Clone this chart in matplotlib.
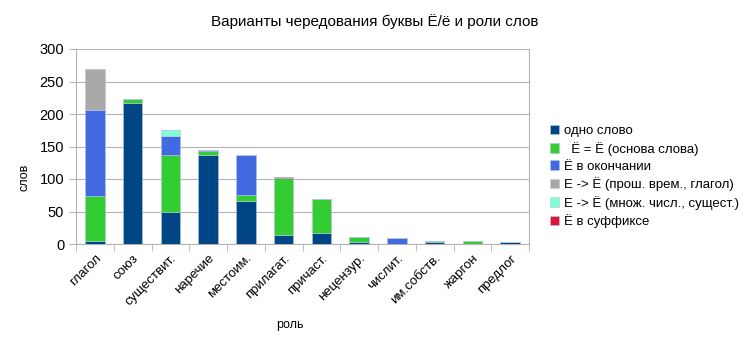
import matplotlib
matplotlib.use("Agg")
import matplotlib.pyplot as plt
import numpy as np

plt.rcParams['font.family'] = ['Liberation Sans', 'DejaVu Sans']

categories = ["глагол", "союз", "существит.", "наречие", "местоим.", "прилагат.",
              "причаст.", "нецензур.", "числит.", "им.собств.", "жаргон", "предлог"]
series_names = ["одно слово", "  Ё = Ё (основа слова)", "Ё в окончании",
                "Е -> Ё (прош. врем., глагол)", "Е -> Ё (множ. числ., сущест.)", "Ё в суффиксе"]
one_word   = [5, 217, 50, 137, 66, 14, 17, 3, 0, 3, 0, 3]
base       = [69, 6, 87, 6, 9, 87, 53, 8, 0, 2, 4, 0]
ending     = [132, 0, 29, 1, 62, 0, 0, 0, 9, 0, 0, 0]
past_verb  = [63, 0, 0, 0, 0, 0, 0, 0, 0, 0, 0, 0]
plural     = [0, 0, 9, 0, 0, 0, 0, 0, 0, 0, 0, 0]
suffix     = [0, 0, 0, 0, 0, 2, 0, 0, 0, 0, 0, 0]
series = [one_word, base, ending, past_verb, plural, suffix]
colors = ["#004586", "#33cc33", "#4169e1", "#a9a9a9", "#7fffd4", "#dc143c"]

fig = plt.figure(figsize=(7.5, 3.5), dpi=100)
ax = fig.add_axes([76/750, 1-244/350, (529-76)/750, (244-49)/350])

x = np.arange(len(categories))
bottom = np.zeros(len(categories))
for vals, name, c in zip(series, series_names, colors):
    vals = np.array(vals, dtype=float)
    ax.bar(x, vals, width=0.51, bottom=bottom, color=c, label=name,
           edgecolor="#b4c7dc", linewidth=0.4, zorder=3)
    bottom += vals

ax.set_xlim(-0.5, len(categories) - 0.5)
ax.set_ylim(0, 300)
ax.set_yticks(range(0, 301, 50))
ax.yaxis.grid(True, color="#b3b3b3", linewidth=0.8, zorder=0)
ax.set_xticks(x)
ax.set_xticklabels(categories, rotation=45, ha="right", rotation_mode="anchor", fontsize=9.5)
ax.tick_params(axis="x", which="major", length=0, pad=6)
ax.set_xticks(np.arange(-0.5, len(categories), 1), minor=True)
ax.tick_params(axis="x", which="minor", length=5, color="#b3b3b3")
ax.tick_params(axis="y", length=5, color="#b3b3b3", labelsize=10.5)
for s in ax.spines.values():
    s.set_color("#b3b3b3")
    s.set_linewidth(0.8)
ax.spines["top"].set_visible(False)

fig.text(290/750, 1-325/350, "роль", ha="center", va="center", fontsize=9)
fig.text(25/750, 1-177/350, "слов", ha="center", va="center", rotation=90, fontsize=9)
fig.text(375/750, 1-22/350, "Варианты чередования буквы Ё/ё и роли слов",
         ha="center", va="center", fontsize=11)

handles, labels = ax.get_legend_handles_labels()
fig.legend(handles, labels, loc="upper left", bbox_to_anchor=(538/750, 1-113/350),
           frameon=False, fontsize=9.5, handlelength=0.7, handleheight=0.7,
           handletextpad=0.4, labelspacing=0.35)

fig.savefig("out.png", dpi=100)
